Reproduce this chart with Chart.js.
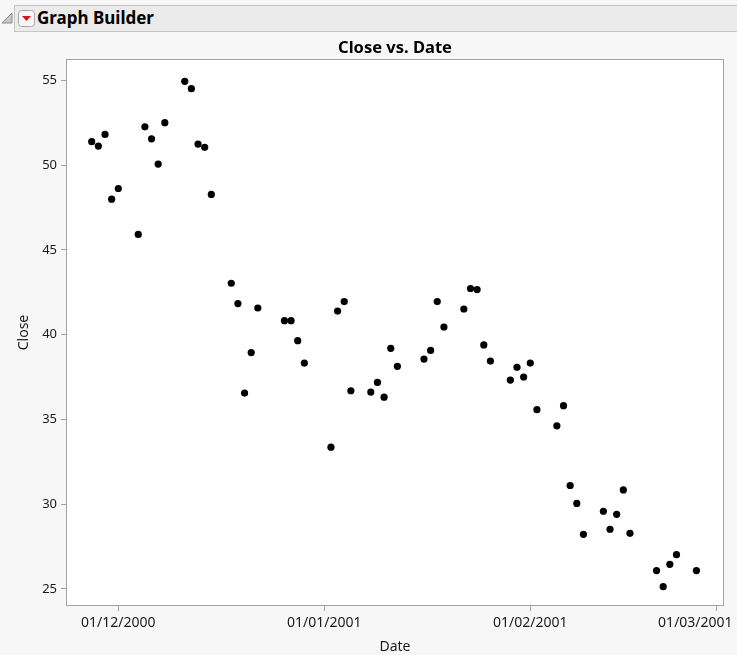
<!DOCTYPE html>
<html>
<head>
<meta charset="utf-8">
<script src="https://cdn.jsdelivr.net/npm/chart.js@4"></script>
<style>
    body { margin: 0; background: #f7f7f7; font-family: "Noto Sans", sans-serif; }
    #wrap { position: relative; width: 737px; height: 655px; overflow: hidden; }
    #chart { position: absolute; left: 0; top: 0; }
    .bar { position: absolute; left: 14px; top: 5px; width: 740px; height: 25px; background: #ebebeb; border: 1px solid #c6c6c6; }
    .bar-title { position: absolute; left: 37px; top: 5px; line-height: 25px; font-size: 17px; font-weight: bold; color: #000; }
    .disclose { position: absolute; left: 1px; top: 12px; }
    .menu { position: absolute; left: 18px; top: 10px; }
    .plot-title { position: absolute; left: 67px; width: 656px; top: 35px; text-align: center; font-size: 16.5px; font-weight: bold; color: #000; }
</style>
</head>
<body>
<div id="wrap">
    <canvas id="chart" width="737" height="655"></canvas>
    <div class="bar"></div>
    <svg class="disclose" width="12" height="12"><polygon points="1,11 11,11 11,1" fill="#c8c8c8" stroke="#8a8a8a" stroke-width="1"/></svg>
    <svg class="menu" width="17" height="17"><rect x="0.5" y="0.5" width="16" height="16" rx="3" fill="#f6f6f6" stroke="#a8a8a8"/><polygon points="4,6 13,6 8.5,11" fill="#d6141c"/></svg>
    <div class="bar-title">Graph Builder</div>
    <div class="plot-title">Close vs. Date</div>
</div>
<script>
const dates = [
    '2000-11-27', '2000-11-28', '2000-11-29', '2000-11-30', '2000-12-01',
    '2000-12-04', '2000-12-05', '2000-12-06', '2000-12-07', '2000-12-08',
    '2000-12-11', '2000-12-12', '2000-12-13', '2000-12-14', '2000-12-15',
    '2000-12-18', '2000-12-19', '2000-12-20', '2000-12-21', '2000-12-22',
    '2000-12-26', '2000-12-27', '2000-12-28', '2000-12-29',
    '2001-01-02', '2001-01-03', '2001-01-04', '2001-01-05',
    '2001-01-08', '2001-01-09', '2001-01-10', '2001-01-11', '2001-01-12',
    '2001-01-16', '2001-01-17', '2001-01-18', '2001-01-19',
    '2001-01-22', '2001-01-23', '2001-01-24', '2001-01-25', '2001-01-26',
    '2001-01-29', '2001-01-30', '2001-01-31', '2001-02-01', '2001-02-02',
    '2001-02-05', '2001-02-06', '2001-02-07', '2001-02-08', '2001-02-09',
    '2001-02-12', '2001-02-13', '2001-02-14', '2001-02-15', '2001-02-16',
    '2001-02-20', '2001-02-21', '2001-02-22', '2001-02-23',
    '2001-02-26'
];
const close = [
    51.38, 51.12, 51.81, 47.99, 48.62,
    45.91, 52.26, 51.55, 50.06, 52.50,
    54.94, 54.51, 51.24, 51.05, 48.27,
    43.03, 41.83, 36.55, 38.94, 41.57,
    40.82, 40.82, 39.64, 38.32,
    33.36, 41.39, 41.95, 36.69,
    36.61, 37.18, 36.31, 39.19, 38.13,
    38.56, 39.07, 41.95, 40.45,
    41.51, 42.72, 42.66, 39.39, 38.44,
    37.32, 38.07, 37.50, 38.32, 35.57,
    34.62, 35.81, 31.10, 30.04, 28.22,
    29.58, 28.52, 29.40, 30.84, 28.28,
    26.08, 25.13, 26.45, 27.02,
    26.08
];
const xTickDates = ['2000-12-01', '2001-01-01', '2001-02-01', '2001-03-01'];
const xTickLabels = ['01/12/2000', '01/01/2001', '01/02/2001', '01/03/2001'];
const yTicks = [25, 30, 35, 40, 45, 50, 55];

// dates as day numbers on a linear axis
const dayNum = s => Date.UTC(+s.slice(0, 4), +s.slice(5, 7) - 1, +s.slice(8, 10)) / 864e5;

let points = dates.map((d, i) => ({ x: dayNum(d), y: close[i] }));

const plotFrame = {
    id: 'plotFrame',
    beforeDatasetsDraw(chart) {
        const { ctx, chartArea: a } = chart;
        ctx.save();
        ctx.fillStyle = '#ffffff';
        ctx.fillRect(a.left, a.top, a.width, a.height);
        ctx.strokeStyle = '#a3a3a3';
        ctx.lineWidth = 1;
        ctx.strokeRect(a.left - 0.5, a.top - 0.5, a.width + 1, a.height + 1);
        ctx.restore();
    }
};

const yTickFont = { family: '"Noto Sans", sans-serif', size: 13 };
const xTickFont = { family: '"Noto Sans", sans-serif', size: 14 };
const titleFont = { family: '"Noto Sans", sans-serif', size: 14 };

new Chart(document.getElementById('chart'), {
    type: 'scatter',
    data: {
        datasets: [{
            label: 'Close',
            data: points,
            backgroundColor: '#000000',
            borderColor: '#000000',
            borderWidth: 0,
            pointRadius: 3.6
        }]
    },
    options: {
        responsive: false,
        animation: false,
        layout: { padding: { top: 60, right: 14, left: 0, bottom: 0 } },
        plugins: {
            legend: { display: false },
            tooltip: { enabled: false }
        },
        scales: {
            x: {
                type: 'linear',
                min: dayNum('2000-12-01') - 7.72,
                max: dayNum('2001-03-01') + 1.0,
                afterBuildTicks: scale => { scale.ticks = xTickDates.map(d => ({ value: dayNum(d) })); },
                afterFit: scale => { scale.height = 50; scale.paddingLeft = 0; scale.paddingRight = 0; },
                grid: { drawOnChartArea: false, tickLength: 6, color: '#a3a3a3' },
                border: { display: false },
                ticks: {
                    autoSkip: false,
                    maxRotation: 0,
                    padding: 4,
                    color: '#1a1a1a',
                    font: xTickFont,
                    callback: (value, index) => index === xTickLabels.length - 1
                        ? xTickLabels[index] + '\u2002'.repeat(6)
                        : xTickLabels[index]
                },
                title: { display: true, text: 'Date', color: '#1a1a1a', font: titleFont, padding: { top: 0, bottom: 0 } }
            },
            y: {
                min: 24.05,
                max: 56.2,
                afterBuildTicks: scale => { scale.ticks = yTicks.map(v => ({ value: v })); },
                afterFit: scale => { scale.width = 67; scale.paddingTop = 0; scale.paddingBottom = 0; },
                grid: { drawOnChartArea: false, tickLength: 6, color: '#a3a3a3' },
                border: { display: false },
                ticks: { padding: 4, color: '#1a1a1a', font: yTickFont },
                title: { display: true, text: 'Close', color: '#1a1a1a', font: titleFont, padding: { top: 16, bottom: 0 } }
            }
        }
    },
    plugins: [plotFrame]
});
</script>
</body>
</html>
